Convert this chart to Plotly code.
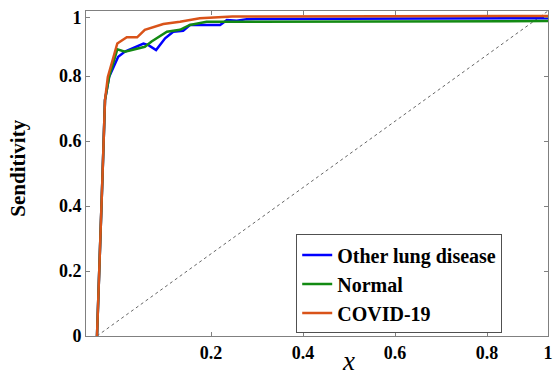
import plotly.graph_objects as go

# ---- data ----
series_names = ["Other lung disease", "Normal", "COVID-19"]

# shared steep rise at the start
rise_fpr = [0.0, 0.008, 0.0126, 0.0177, 0.027]
rise_tpr = [0.0, 0.286, 0.51, 0.726, 0.798]

other_fpr = rise_fpr + [0.047, 0.062, 0.103, 0.114, 0.131, 0.151, 0.169, 0.191, 0.206, 0.273, 0.288, 0.31, 0.332, 1.0]
other_tpr = rise_tpr + [0.859, 0.875, 0.90, 0.895, 0.88, 0.916, 0.936, 0.939, 0.957, 0.957, 0.972, 0.970, 0.975, 0.978]

normal_fpr = rise_fpr + [0.045, 0.062, 0.106, 0.121, 0.155, 0.184, 0.206, 0.243, 1.0]
normal_tpr = rise_tpr + [0.882, 0.875, 0.89, 0.906, 0.936, 0.942, 0.957, 0.967, 0.969]

covid_fpr = [0.0, 0.008, 0.0126, 0.0177, 0.024, 0.045, 0.066, 0.089, 0.106, 0.147, 0.184, 0.228, 0.30, 1.0]
covid_tpr = [0.0, 0.286, 0.51, 0.726, 0.797, 0.90, 0.919, 0.919, 0.942, 0.96, 0.967, 0.978, 0.983, 0.985]

chance_x = [0.0, 1.0]
chance_y = [0.0, 1.0]

x_tick_positions = [0.253, 0.457, 0.661, 0.865, 1.0]
x_tick_labels = ["0.2", "0.4", "0.6", "0.8", "1"]
y_tick_positions = [0.0, 0.2, 0.4, 0.6, 0.8, 0.98]
y_tick_labels = ["0", "0.2", "0.4", "0.6", "0.8", "1"]

colors = ["#0000FF", "#138A13", "#D95319"]
SERIF = "Liberation Serif, Times New Roman, serif"

fig = go.Figure()
fig.add_trace(go.Scatter(x=chance_x, y=chance_y, mode="lines", showlegend=False,
                         line=dict(color="#666666", width=1, dash="dot"), hoverinfo="skip"))
for name, xs, ys, c in zip(series_names,
                           [other_fpr, normal_fpr, covid_fpr],
                           [other_tpr, normal_tpr, covid_tpr], colors):
    fig.add_trace(go.Scatter(x=xs, y=ys, mode="lines", name=name,
                             line=dict(color=c, width=2.5)))

axis_common = dict(showline=True, linecolor="#808080", linewidth=1, mirror="ticks",
                   ticks="inside", ticklen=4, tickcolor="#808080", showgrid=False,
                   zeroline=False, automargin=False,
                   tickfont=dict(family=SERIF, size=18, color="black", weight="bold"))

fig.update_xaxes(range=[-0.0244, 1.0], tickmode="array", tickvals=x_tick_positions,
                 ticktext=x_tick_labels, **axis_common)
fig.update_yaxes(range=[0, 1.0], tickmode="array", tickvals=y_tick_positions,
                 ticktext=y_tick_labels, **axis_common)

fig.update_layout(
    width=553, height=376,
    margin=dict(l=86, r=5, t=11, b=40),
    plot_bgcolor="white", paper_bgcolor="white",
    legend=dict(x=0.455, y=0.008, xanchor="left", yanchor="bottom",
                bgcolor="white", bordercolor="#505050", borderwidth=1,
                font=dict(family=SERIF, size=20, color="black", weight="bold"),
                tracegroupgap=0),
    annotations=[
        dict(text="Senditivity", textangle=-90, xref="paper", yref="paper",
             x=-0.147, y=0.515, xanchor="center", yanchor="middle", showarrow=False,
             font=dict(family=SERIF, size=21, color="black", weight="bold")),
        dict(text="<i>x</i>", xref="paper", yref="paper",
             x=(348 - 86) / 462, y=-0.078, xanchor="center", yanchor="middle",
             showarrow=False,
             font=dict(family=SERIF, size=27, color="black")),
    ],
)

fig.write_html("out.html", config={"displayModeBar": False},
               post_script="document.body.style.margin='0';")
